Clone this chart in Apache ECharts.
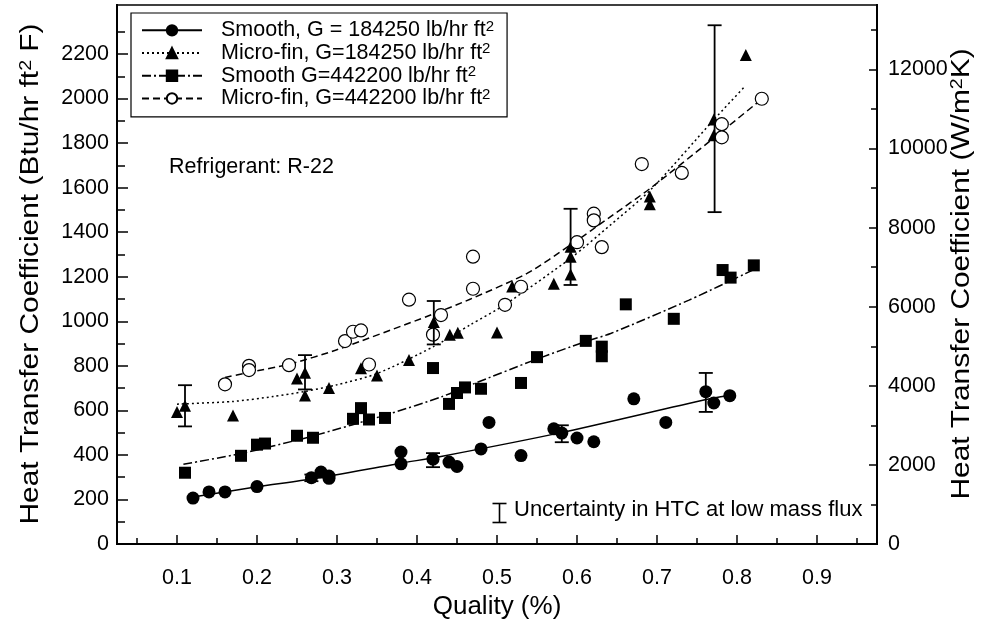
<!DOCTYPE html>
<html>
<head>
<meta charset="utf-8">
<script src="https://cdn.jsdelivr.net/npm/echarts@6/dist/echarts.min.js"></script>
<style>html,body{margin:0;padding:0;background:#fff;}#c{width:981px;height:626px;}</style>
</head>
<body>
<div id="c"></div>
<script>
// ---------- data ----------
const seriesNames = [
  'Smooth, G = 184250 lb/hr ft²',
  'Micro-fin, G=184250 lb/hr ft²',
  'Smooth G=442200 lb/hr ft²',
  'Micro-fin, G=442200 lb/hr ft²'
];
// [quality, HTC Btu/hr ft2 F]
const smooth184 = [[0.12,206],[0.14,234],[0.16,234],[0.20,258],[0.268,298],[0.28,323],[0.29,305],[0.29,295],[0.38,413],[0.38,360],[0.42,381],[0.44,368],[0.45,348],[0.48,427],[0.49,546],[0.53,397],[0.571,517],[0.581,498],[0.60,476],[0.621,459],[0.671,652],[0.711,546],[0.761,684],[0.771,633],[0.791,666]];
const micro184 = [[0.10,593],[0.11,621],[0.17,577],[0.25,743],[0.26,769],[0.26,667],[0.29,700],[0.33,789],[0.35,757],[0.39,826],[0.421,997],[0.441,940],[0.451,948],[0.50,950],[0.519,1156],[0.571,1168],[0.592,1335],[0.592,1290],[0.592,1210],[0.691,1560],[0.691,1525],[0.771,1906],[0.771,1835],[0.811,2195]];
const smooth442 = [[0.11,320],[0.18,396],[0.20,446],[0.21,451],[0.25,486],[0.27,477],[0.32,562],[0.33,610],[0.34,559],[0.36,566],[0.42,790],[0.44,629],[0.45,678],[0.46,703],[0.48,697],[0.53,723],[0.55,839],[0.611,912],[0.631,886],[0.631,843],[0.661,1076],[0.721,1011],[0.782,1230],[0.792,1196],[0.821,1251]];
const micro442 = [[0.16,717],[0.19,800],[0.19,781],[0.24,803],[0.31,911],[0.32,953],[0.33,959],[0.34,806],[0.39,1097],[0.42,940],[0.43,1028],[0.47,1290],[0.47,1146],[0.51,1074],[0.53,1155],[0.60,1355],[0.621,1483],[0.621,1453],[0.631,1333],[0.681,1706],[0.731,1666],[0.781,1885],[0.781,1826],[0.831,1999]];
// fitted curves as drawn in the reference
const fitSmooth184 = [[0.12,211],[0.20,257],[0.27,293],[0.38,363],[0.43,393],[0.58,500],[0.76,648],[0.79,667]];
const fitMicro184 = [[0.10,628],[0.17,640],[0.22,662],[0.26,685],[0.30,715],[0.35,765],[0.42,885],[0.467,985],[0.51,1075],[0.592,1283],[0.642,1433],[0.692,1590],[0.771,1905],[0.81,2055]];
const fitSmooth442 = [[0.108,358],[0.18,406],[0.22,440],[0.27,485],[0.367,586],[0.43,660],[0.47,718],[0.546,825],[0.61,908],[0.642,945],[0.74,1095],[0.821,1232]];
const fitMicro442 = [[0.16,748],[0.19,770],[0.24,807],[0.298,870],[0.417,1028],[0.467,1100],[0.5375,1215],[0.592,1343],[0.642,1470],[0.692,1598],[0.771,1823],[0.831,1998]];
// uncertainty bars [quality, low, high]
const errorBars = [[0.11,528,713],[0.26,694,848],[0.421,896,1091],[0.592,1163,1505],[0.772,1490,2329],[0.268,282,312],[0.42,345,408],[0.581,457,533],[0.761,593,768]];
// axes
const xRange = [0.025, 0.975];
const yLeftRange = [0, 2420];
const yRightRange = [0, 13630];
const xMajor = [0.1,0.2,0.3,0.4,0.5,0.6,0.7,0.8,0.9];
const xMinor = [0.05,0.15,0.25,0.35,0.45,0.55,0.65,0.75,0.85,0.95];
const yLeftMajor = [0,200,400,600,800,1000,1200,1400,1600,1800,2000,2200];
const yLeftMinor = [100,300,500,700,900,1100,1300,1500,1700,1900,2100,2300];
const yRightMajor = [0,2000,4000,6000,8000,10000,12000];
const yRightMinor = [1000,3000,5000,7000,9000,11000,13000];
const xTitle = 'Quality (%)';
const yLeftTitle = 'Heat Transfer Coefficient (Btu/hr ft² F)';
const yRightTitle = 'Heat Transfer Coefficient (W/m²K)';
const noteText = 'Refrigerant: R-22';
const uncertaintyText = 'Uncertainty in HTC at low mass flux';

// ---------- chart ----------
const FONT = '"Liberation Sans", Arial, sans-serif';
const sup = s => s.replace(/²/g, '{s|2}');
const chart = echarts.init(document.getElementById('c'), null, {renderer: 'canvas'});
const grid = {left: 117, right: 104, top: 5, bottom: 82};
const axisLineStyle = {color: '#000', width: 2};
const TICKFS = 21.5;
function xAxisDef(ticks, len, labels, showLine) {
  return {
    type: 'value', min: xRange[0], max: xRange[1], position: 'bottom',
    axisLine: {show: showLine, lineStyle: axisLineStyle},
    axisTick: {show: true, inside: true, length: len, customValues: ticks, lineStyle: {color: '#000', width: 1.5}},
    axisLabel: labels ? {show: true, customValues: labels, margin: 23, fontSize: TICKFS, color: '#000', fontFamily: FONT, formatter: v => v.toFixed(1)} : {show: false},
    splitLine: {show: false},
    name: labels ? xTitle : '', nameLocation: 'middle', nameGap: 50,
    nameTextStyle: {fontSize: 26, color: '#000', fontFamily: FONT}
  };
}
function yAxisDef(pos, range, ticks, len, labels) {
  return {
    type: 'value', min: range[0], max: range[1], position: pos,
    axisLine: {show: true, lineStyle: axisLineStyle},
    axisTick: {show: true, inside: true, length: len, customValues: ticks, lineStyle: {color: '#000', width: 1.5}},
    axisLabel: labels ? {show: true, customValues: labels, margin: pos === 'left' ? 8 : 11, fontSize: TICKFS, color: '#000', fontFamily: FONT, formatter: v => String(Math.round(v))} : {show: false},
    splitLine: {show: false}
  };
}
function yTitle(text, cx) {
  return {
    type: 'text', x: cx, y: 274, rotation: Math.PI / 2, scaleX: 1.15, scaleY: 1, silent: true,
    style: {text: sup(text), fill: '#000', font: '26px ' + FONT, align: 'center', verticalAlign: 'middle',
      rich: {s: {fill: '#000', font: '17px ' + FONT, fontSize: 17, fontFamily: FONT, verticalAlign: 'top'}}}
  };
}
const lineDefs = [
  {data: fitSmooth184, type: 'solid', symbol: 'circle', fill: '#000'},
  {data: fitMicro184, type: [2, 3], symbol: 'triangle', fill: '#000'},
  {data: fitSmooth442, type: [9, 3, 2, 3], symbol: 'rect', fill: '#000'},
  {data: fitMicro442, type: [7, 4], symbol: 'circle', fill: '#fff'}
];
const ptsDefs = [
  {data: smooth184, symbol: 'circle', size: 13, fill: '#000'},
  {data: micro184, symbol: 'triangle', size: 12, fill: '#000'},
  {data: smooth442, symbol: 'rect', size: 12, fill: '#000'},
  {data: micro442, symbol: 'circle', size: 13, fill: '#fff'}
];
const series = [];
lineDefs.forEach((d, i) => {
  series.push({
    name: seriesNames[i], type: 'line', data: d.data, smooth: 0.25,
    symbol: d.symbol, showSymbol: false, symbolSize: 10,
    itemStyle: {color: d.fill, borderColor: '#000', borderWidth: 1},
    lineStyle: {color: '#000', width: 1.5, type: d.type},
    emphasis: {disabled: true}, z: 2
  });
});
ptsDefs.forEach((d, i) => {
  series.push({
    name: 'pts' + i, type: 'scatter', data: d.data, symbol: d.symbol, symbolSize: d.size,
    itemStyle: {color: d.fill, borderColor: '#000', borderWidth: d.fill === '#fff' ? 1.2 : 0, opacity: 1},
    emphasis: {disabled: true}, z: 4
  });
});
series.push({
  name: 'err', type: 'custom', data: errorBars, encode: {x: 0, y: [1, 2]}, z: 5,
  renderItem: function (params, api) {
    const x = api.value(0);
    const pLo = api.coord([x, api.value(1)]);
    const pHi = api.coord([x, api.value(2)]);
    const w = 7;
    const st = {stroke: '#000', lineWidth: 1.8};
    return {type: 'group', children: [
      {type: 'line', shape: {x1: pLo[0], y1: pLo[1], x2: pHi[0], y2: pHi[1]}, style: st},
      {type: 'line', shape: {x1: pLo[0] - w, y1: pLo[1], x2: pLo[0] + w, y2: pLo[1]}, style: st},
      {type: 'line', shape: {x1: pHi[0] - w, y1: pHi[1], x2: pHi[0] + w, y2: pHi[1]}, style: st}
    ]};
  }
});

chart.setOption({
  animation: false,
  backgroundColor: '#fff',
  grid: Object.assign({show: true, borderColor: '#000', borderWidth: 1.5, backgroundColor: 'transparent', containLabel: false, outerBoundsMode: 'none'}, grid),
  xAxis: [xAxisDef(xMajor, 9, xMajor, true), xAxisDef(xMinor, 6, null, false)],
  yAxis: [
    yAxisDef('left', yLeftRange, yLeftMajor, 11, yLeftMajor),
    yAxisDef('left', yLeftRange, yLeftMinor, 8, null),
    yAxisDef('right', yRightRange, yRightMajor, 8, yRightMajor),
    yAxisDef('right', yRightRange, yRightMinor, 6, null)
  ],
  legend: {
    show: true, orient: 'vertical', left: 131, top: 13,
    data: seriesNames,
    itemWidth: 60, itemHeight: 13, itemGap: 0,
    padding: [6, 13, 7, 10],
    borderColor: '#000', borderWidth: 1.2, backgroundColor: '#fff',
    selectedMode: false,
    formatter: n => sup(n),
    textStyle: {fontSize: 21.5, lineHeight: 22.7, color: '#000', fontFamily: FONT, padding: [0, 0, 0, 14],
      rich: {s: {fontSize: 15, verticalAlign: 'top', color: '#000', fontFamily: FONT}}}
  },
  graphic: [
    yTitle(yLeftTitle, 31),
    yTitle(yRightTitle, 962),
    {type: 'text', left: 169, top: 156, style: {text: noteText, fill: '#000', font: '21.5px ' + FONT}},
    {type: 'group', left: 490, top: 501, children: [
      {type: 'line', shape: {x1: 7, y1: 0, x2: 7, y2: 19}, style: {stroke: '#000', lineWidth: 1.6}},
      {type: 'line', shape: {x1: 0, y1: 0, x2: 14, y2: 0}, style: {stroke: '#000', lineWidth: 1.6}},
      {type: 'line', shape: {x1: 0, y1: 19, x2: 14, y2: 19}, style: {stroke: '#000', lineWidth: 1.6}}
    ]},
    {type: 'text', left: 514, top: 499, style: {text: uncertaintyText, fill: '#000', font: '22px ' + FONT}}
  ],
  series: series
});
</script>
</body>
</html>
